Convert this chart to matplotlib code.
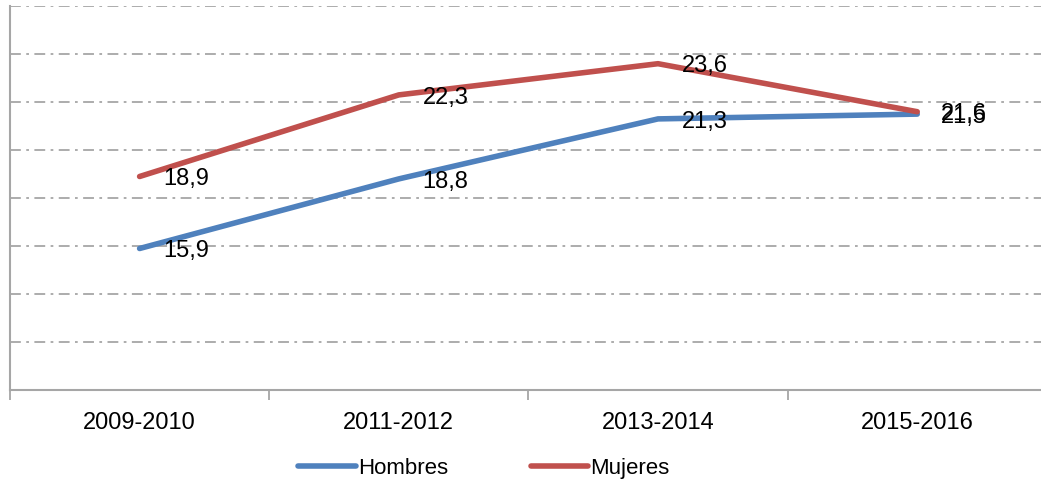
import numpy as np
import matplotlib
matplotlib.use("Agg")
from matplotlib import pyplot as plt

periodos = ["2009-2010", "2011-2012", "2013-2014", "2015-2016"]
hombres = [15.9, 18.8, 21.3, 21.5]
mujeres = [18.9, 22.3, 23.6, 21.6]

plt.rcParams['font.family'] = ['Liberation Sans', 'DejaVu Sans']

fig = plt.figure(figsize=(10.41, 4.84), dpi=100)
ax = fig.add_axes([0.0096, 0.194, 0.996, 0.7934])

x = np.arange(len(periodos))
ax.plot(x, hombres, color='#4F81BD', lw=4, solid_capstyle='round', label='Hombres', zorder=3)
ax.plot(x, mujeres, color='#C0504D', lw=4, solid_capstyle='round', label='Mujeres', zorder=3)

for serie in (hombres, mujeres):
    for xi, v in zip(x, serie):
        ax.annotate(f"{v:.1f}".replace('.', ','), (xi, v), xytext=(17, -2),
                    textcoords='offset points', ha='left', va='center', fontsize=17, zorder=4)

ax.set_xlim(-0.5, 3.5)
ax.set_ylim(10, 26)
ax.set_yticks(np.arange(10, 27, 2))
ax.set_yticklabels([])
ax.tick_params(axis='y', length=0)
ax.grid(axis='y', color='#A6A6A6', lw=1.3, linestyle=(0, (6, 3, 1.5, 3)))

ax.set_xticks(x)
ax.set_xticklabels(periodos, fontsize=17)
ax.set_xticks(np.arange(-0.5, 4, 1), minor=True)
ax.tick_params(axis='x', which='major', length=0, pad=16)
ax.tick_params(axis='x', which='minor', length=7, width=1.3, color='#A6A6A6')

for s in ('top', 'right'):
    ax.spines[s].set_visible(False)
for s in ('left', 'bottom'):
    ax.spines[s].set_color('#A6A6A6')
    ax.spines[s].set_linewidth(1.5)

fig.legend(loc='center', bbox_to_anchor=(0.465, 0.033), ncol=2, frameon=False,
           fontsize=16, handlelength=2.6, handletextpad=0.1, columnspacing=3.7)

fig.savefig('out.png', dpi=100)
